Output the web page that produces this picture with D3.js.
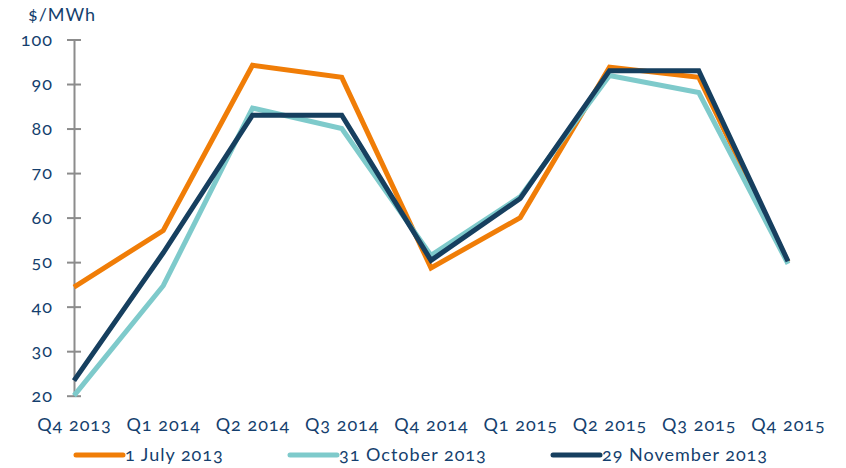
<!DOCTYPE html>
<html>
<head>
<meta charset="utf-8">
<script src="https://cdn.jsdelivr.net/npm/d3@7"></script>
<style>
  body { margin: 0; background: #fff; }
  svg text { font-family: Lato, "Open Sans", sans-serif; fill: #153f6e; font-variant-numeric: oldstyle-nums; letter-spacing: 1px; }
</style>
</head>
<body>
<div id="chart"></div>
<script>
// data
var quarters = ["Q4 2013","Q1 2014","Q2 2014","Q3 2014","Q4 2014","Q1 2015","Q2 2015","Q3 2015","Q4 2015"]
var july2013 = [44.4, 57.1, 94.2, 91.5, 48.7, 60.0, 93.8, 91.5, 50.0]
var oct2013 = [20.0, 44.7, 84.6, 80.0, 51.5, 64.7, 91.9, 88.1, 49.6]
var nov2013 = [23.4, 52.1, 83.0, 83.0, 50.4, 64.3, 93.0, 93.0, 50.2]
var seriesNames = ["1 July 2013", "31 October 2013", "29 November 2013"]
var yTicks = [20, 30, 40, 50, 60, 70, 80, 90, 100]

var colors = ["#f07d07", "#7ecacb", "#163f5f"]
var allSeries = [july2013, oct2013, nov2013]

var width = 846, height = 468
var fontSize = 18

var svg = d3.select("#chart").append("svg")
    .attr("width", width)
    .attr("height", height)

var x = d3.scalePoint().domain(quarters).range([74, 788])
var y = d3.scaleLinear().domain([20, 100]).range([395.7, 39.5])

// y axis: grey line with ticks crossing it
var yAxis = d3.axisLeft(y).tickValues(yTicks).tickSize(0).tickPadding(21)
var gy = svg.append("g").attr("transform", "translate(74,0)").call(yAxis)
gy.select(".domain").attr("stroke", "#8c8c8c").attr("stroke-width", 2)
gy.selectAll(".tick text").attr("font-size", fontSize).style("fill", "#153f6e")
gy.selectAll(".tick").append("line")
    .attr("x1", -7).attr("x2", 7)
    .attr("stroke", "#8c8c8c").attr("stroke-width", 2)

svg.append("text")
    .attr("x", 28).attr("y", 21)
    .attr("font-size", fontSize)
    .text("$/MWh")

// x labels, no axis line
var xAxis = d3.axisBottom(x).tickSize(0).tickPadding(0)
var gx = svg.append("g").attr("transform", "translate(0,418)").call(xAxis)
gx.select(".domain").remove()
gx.selectAll(".tick text").attr("font-size", fontSize).attr("dy", "0.71em").style("fill", "#153f6e")

var line = d3.line()
    .x(function(d, i){ return x(quarters[i]) })
    .y(function(d){ return y(d) })

svg.selectAll(".series")
    .data(allSeries)
    .enter().append("path")
    .attr("class", "series")
    .attr("d", line)
    .attr("fill", "none")
    .attr("stroke", function(d, i){ return colors[i] })
    .attr("stroke-width", 5)
    .attr("stroke-linejoin", "miter")

// legend
var legendX = [76, 290, 553]
var lg = svg.selectAll(".legend")
    .data(seriesNames)
    .enter().append("g")
    .attr("class", "legend")
    .attr("transform", function(d, i){ return "translate(" + legendX[i] + ",455)" })
lg.append("line")
    .attr("x1", 0).attr("x2", 47)
    .attr("stroke", function(d, i){ return colors[i] })
    .attr("stroke-width", 5)
    .attr("stroke-linecap", "round")
lg.append("text")
    .attr("x", 49).attr("y", 6)
    .attr("font-size", fontSize)
    .text(function(d){ return d })
</script>
</body>
</html>
